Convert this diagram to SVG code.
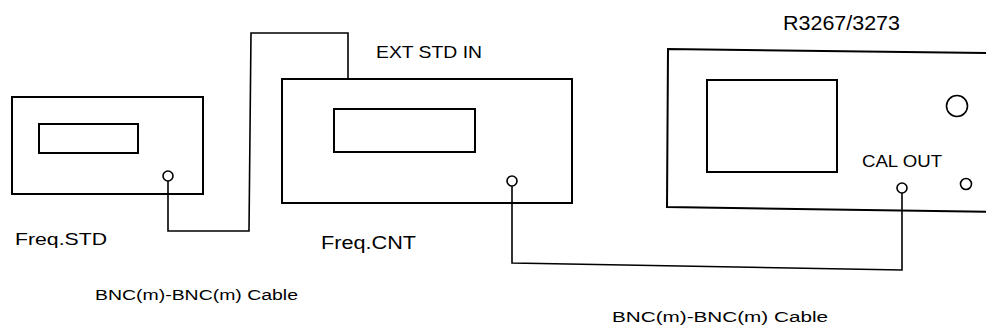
<svg xmlns="http://www.w3.org/2000/svg" width="986" height="329" viewBox="0 0 986 329">
<style>
.box{fill:none;stroke:#000;stroke-width:2}
.port{fill:#fff;stroke:#000;stroke-width:1.6}
.cable{fill:none;stroke:#000;stroke-width:1.6}
text{font-family:"Liberation Sans",Arial,sans-serif;fill:#000}
</style>
<rect width="986" height="329" fill="#fff"/>
<g id="connectors">
<path class="cable" d="M168,181 L168,231 L249,231 L251,33 L348,33 L348,79"/>
<path class="cable" d="M512,186 L512,263 L902,270 L902,193"/>
</g>
<g id="freq-std">
<rect class="box" x="12" y="97" width="191" height="97"/>
<rect class="box" x="39" y="124" width="99" height="29"/>
<circle class="port" cx="168" cy="176" r="5"/>
<text x="15" y="245" font-size="17" textLength="92" lengthAdjust="spacingAndGlyphs">Freq.STD</text>
</g>
<g id="freq-cnt">
<rect class="box" x="282" y="79" width="290" height="124"/>
<rect class="box" x="334" y="109" width="141" height="43"/>
<circle class="port" cx="512" cy="181" r="5"/>
<text x="376" y="58" font-size="17" textLength="106" lengthAdjust="spacingAndGlyphs">EXT STD IN</text>
<text x="321" y="249" font-size="18" textLength="95" lengthAdjust="spacingAndGlyphs">Freq.CNT</text>
</g>
<g id="r3267">
<path class="box" d="M995,53 L668,49 L667,207 L995,212"/>
<rect class="box" x="707" y="80" width="130" height="92"/>
<circle class="port" cx="957" cy="106" r="10.5"/>
<circle class="port" cx="966" cy="184" r="5.5"/>
<circle class="port" cx="902" cy="188" r="5"/>
<text x="783" y="30" font-size="20" textLength="117" lengthAdjust="spacingAndGlyphs">R3267/3273</text>
<text x="862" y="167" font-size="16" textLength="80" lengthAdjust="spacingAndGlyphs">CAL OUT</text>
</g>
<g id="cable-labels">
<text x="95" y="300" font-size="14" textLength="203" lengthAdjust="spacingAndGlyphs">BNC(m)-BNC(m) Cable</text>
<text x="612" y="322" font-size="14" textLength="216" lengthAdjust="spacingAndGlyphs">BNC(m)-BNC(m) Cable</text>
</g>
</svg>
